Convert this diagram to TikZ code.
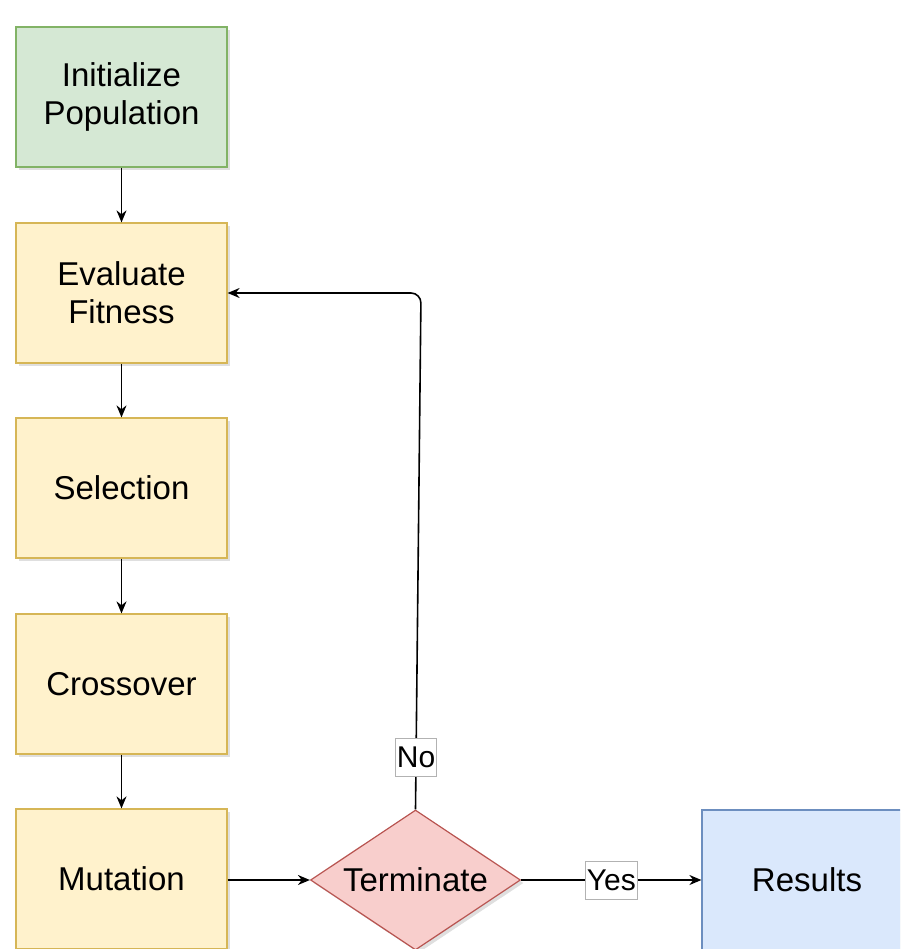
\documentclass[tikz,border=0pt]{standalone}
\usepackage{fontspec}
\setmainfont{Liberation Sans}
\usetikzlibrary{arrows.meta,shapes.geometric,shadows}
\definecolor{greenfill}{HTML}{D5E8D4}
\definecolor{greenline}{HTML}{82B366}
\definecolor{yellowfill}{HTML}{FFF2CC}
\definecolor{yellowline}{HTML}{D6B656}
\definecolor{redfill}{HTML}{F8CECC}
\definecolor{redline}{HTML}{B85450}
\definecolor{bluefill}{HTML}{DAE8FC}
\definecolor{blueline}{HTML}{6C8EBF}
\begin{document}
\begin{tikzpicture}[x=1pt, y=-1pt,
    stepbox/.style={draw, line width=1.2pt, minimum width=211pt, minimum height=140pt, align=center,
        font=\fontsize{33}{38}\selectfont, drop shadow={shadow xshift=3pt, shadow yshift=-3pt, opacity=0.25}},
    flow/.style={line width=1.6pt, -{Stealth[length=12pt, width=10pt]}},
    lbl/.style={fill=white, draw=gray!60, line width=0.6pt, sharp corners, inner xsep=1.5pt, inner ysep=0pt, minimum height=38pt,
        font=\fontsize{30}{34}\selectfont}]
                \clip (0,0) rectangle (900,949);
                \node[stepbox, fill=greenfill, draw=greenline] (init) at (121.5,97) {Initialize\\Population};
                \node[stepbox, fill=yellowfill, draw=yellowline] (eval) at (121.5,293) {Evaluate\\Fitness};
                \node[stepbox, fill=yellowfill, draw=yellowline] (select) at (121.5,488) {Selection};
                \node[stepbox, fill=yellowfill, draw=yellowline] (cross) at (121.5,684) {Crossover};
                \node[stepbox, fill=yellowfill, draw=yellowline] (mutate) at (121.5,879) {Mutation};
                \node[stepbox, diamond, aspect=1.5, fill=redfill, draw=redline, inner sep=0pt, minimum width=210pt, minimum height=140pt] (term) at (415.5,880) {Terminate};
                \node[stepbox, fill=bluefill, draw=blueline, minimum width=210pt] (result) at (807,880) {Results};
                \coordinate (bend) at (421,293);
                \draw[flow] (init) -- (eval);
                \draw[flow] (eval) -- (select);
                \draw[flow] (select) -- (cross);
                \draw[flow] (cross) -- (mutate);
                \draw[flow] (mutate.east |- term.west) -- (term.west);
                \draw[flow] (term.east) -- node[lbl] {Yes} (result.west |- term.east);
                \draw[flow, rounded corners=10pt] (term.north) -- node[lbl, pos=0.1] {No} (bend) -- (eval.east);
            \end{tikzpicture}
\end{document}
